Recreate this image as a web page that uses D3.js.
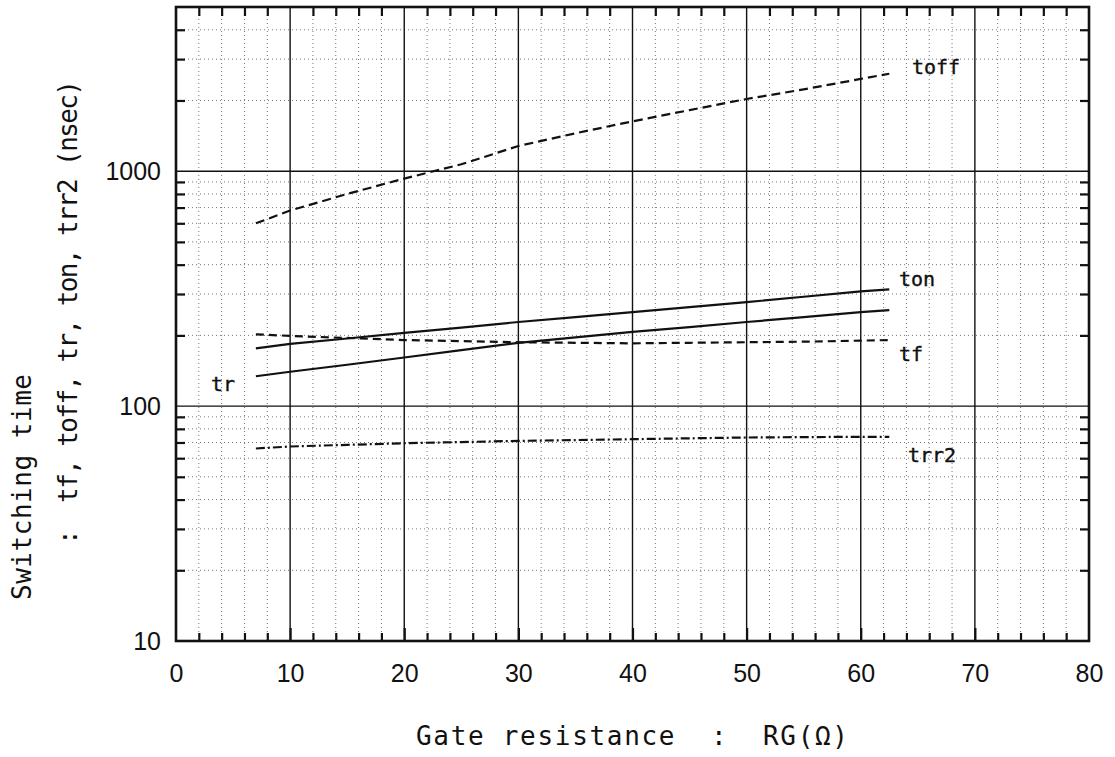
<!DOCTYPE html>
<html>
<head>
<meta charset="utf-8">
<script src="https://cdn.jsdelivr.net/npm/d3@7"></script>
<style>
  body { margin: 0; background: #fff; }
  text { fill: #111; }
</style>
</head>
<body>
<script>
// data (RG in ohm, time in nsec)
var rg = [7, 10, 15, 20, 25, 30, 35, 40, 45, 50, 55, 60, 62.5];
var toff = [600, 680, 800, 930, 1070, 1280, 1450, 1630, 1820, 2030, 2230, 2470, 2600];
var ton = [176, 184, 194, 205, 216, 228, 239, 251, 264, 277, 292, 308, 314];
var tr = [134, 140, 150, 161, 173, 186, 196, 207, 217, 228, 239, 251, 256];
var tf = [202, 199, 195, 191, 189, 187, 186, 185, 186, 187, 188, 190, 191];
var trr2 = [66, 67.3, 68.4, 69.5, 70.3, 71.1, 71.7, 72.3, 72.9, 73.5, 73.8, 74, 74];

var xTicks = [0, 10, 20, 30, 40, 50, 60, 70, 80];
var yTicks = [10, 100, 1000];
var xMinor = d3.range(2, 80, 2).filter(function(d) { return d % 10 != 0; });
var yMinor = [20, 30, 40, 50, 60, 70, 80, 90, 200, 300, 400, 500, 600, 700, 800, 900, 2000, 3000, 4000];

var series = [
  {name: "toff", values: toff, dash: "9,5", lx: 912, ly: 74},
  {name: "ton", values: ton, dash: null, lx: 899, ly: 286},
  {name: "tr", values: tr, dash: null, lx: 211, ly: 391},
  {name: "tf", values: tf, dash: "8,5", lx: 899, ly: 361},
  {name: "trr2", values: trr2, dash: "9,3,2,3", lx: 908, ly: 462}
];

var svgWidth = 1115, svgHeight = 757;
var margin = {top: 7, right: 26, bottom: 116, left: 176};
var width = svgWidth - margin.left - margin.right;
var height = svgHeight - margin.top - margin.bottom;

var svg = d3.select("body").append("svg").attr("width", svgWidth).attr("height", svgHeight);
var chart = svg.append("g").attr("transform", `translate(${margin.left},${margin.top})`);

var x = d3.scaleLinear().domain([0, 80]).range([0, width]);
var y = d3.scaleLog().domain([10, 5000]).range([height, 0]);

// dotted fine grid
chart.selectAll(".vdot").data(xMinor).enter().append("line")
  .attr("x1", x).attr("x2", x).attr("y1", 0).attr("y2", height)
  .attr("stroke", "#777").attr("stroke-width", 1).attr("stroke-dasharray", "1,3");
chart.selectAll(".hdot").data(yMinor).enter().append("line")
  .attr("x1", 0).attr("x2", width).attr("y1", y).attr("y2", y)
  .attr("stroke", "#777").attr("stroke-width", 1).attr("stroke-dasharray", "1,3");

// solid major grid
chart.selectAll(".vmaj").data(xTicks.slice(1, -1)).enter().append("line")
  .attr("x1", x).attr("x2", x).attr("y1", 0).attr("y2", height)
  .attr("stroke", "#111").attr("stroke-width", 1.4);
chart.selectAll(".hmaj").data([100, 1000]).enter().append("line")
  .attr("x1", 0).attr("x2", width).attr("y1", y).attr("y2", y)
  .attr("stroke", "#111").attr("stroke-width", 1.4);

// inward ticks on all four sides
var tickStyle = function(g) {
  g.select(".domain").remove();
  g.selectAll(".tick line").attr("stroke", "#111").attr("stroke-width", 2.2);
  g.selectAll(".tick text").remove();
};
chart.append("g").attr("transform", "translate(0," + height + ")")
  .call(d3.axisBottom(x).tickValues(xMinor).tickSize(-8)).call(tickStyle);
chart.append("g").attr("transform", "translate(0," + height + ")")
  .call(d3.axisBottom(x).tickValues(xTicks.slice(1, -1)).tickSize(-13)).call(tickStyle);
chart.append("g")
  .call(d3.axisTop(x).tickValues(xMinor).tickSize(-9)).call(tickStyle);
chart.append("g")
  .call(d3.axisLeft(y).tickValues(yMinor).tickSize(-9)).call(tickStyle);
chart.append("g").attr("transform", "translate(" + width + ",0)")
  .call(d3.axisRight(y).tickValues(yMinor).tickSize(-9)).call(tickStyle);

// tick labels
var xLab = chart.append("g")
  .attr("transform", "translate(0," + height + ")")
  .call(d3.axisBottom(x).tickValues(xTicks).tickSize(0).tickPadding(23));
xLab.select(".domain").remove();
xLab.selectAll("text").attr("font-family", "Liberation Sans, Arial, sans-serif").attr("font-size", 25).attr("fill", "#111");

var yLab = chart.append("g")
  .call(d3.axisLeft(y).tickValues(yTicks).tickFormat(d3.format("d")).tickSize(0).tickPadding(15));
yLab.select(".domain").remove();
yLab.selectAll("text").attr("font-family", "Liberation Sans, Arial, sans-serif").attr("font-size", 25).attr("fill", "#111");

// curves
var line = d3.line()
  .x(function(d) { return x(d[0]); })
  .y(function(d) { return y(d[1]); });

series.forEach(function(s) {
  chart.append("path")
    .datum(rg.map(function(r, i) { return [r, s.values[i]]; }))
    .attr("d", line)
    .attr("fill", "none")
    .attr("stroke", "#111")
    .attr("stroke-width", 2.2)
    .attr("stroke-dasharray", s.dash);
  svg.append("text")
    .attr("x", s.lx).attr("y", s.ly)
    .attr("font-family", "DejaVu Sans Mono, monospace")
    .attr("font-size", 20)
    .attr("stroke", "#111").attr("stroke-width", 0.4)
    .text(s.name);
});

// frame
chart.append("rect")
  .attr("width", width).attr("height", height)
  .attr("fill", "none").attr("stroke", "#111").attr("stroke-width", 2.6);

// titles
svg.append("text")
  .attr("x", 416).attr("y", 745)
  .attr("font-family", "DejaVu Sans Mono, monospace")
  .attr("font-size", 26)
  .style("white-space", "pre")
  .attr("textLength", 432).attr("lengthAdjust", "spacing")
  .text("Gate resistance  :  RG(Ω)");

svg.append("text")
  .attr("transform", "translate(31,600)rotate(-90)")
  .attr("font-family", "DejaVu Sans Mono, monospace")
  .attr("font-size", 26)
  .attr("textLength", 226).attr("lengthAdjust", "spacing")
  .text("Switching time");
svg.append("text")
  .attr("transform", "translate(77,545)rotate(-90)")
  .attr("font-family", "DejaVu Sans Mono, monospace")
  .attr("font-size", 26)
  .style("white-space", "pre")
  .attr("textLength", 465).attr("lengthAdjust", "spacing")
  .text(":  tf, toff, tr, ton, trr2 (nsec)");
</script>
</body>
</html>
